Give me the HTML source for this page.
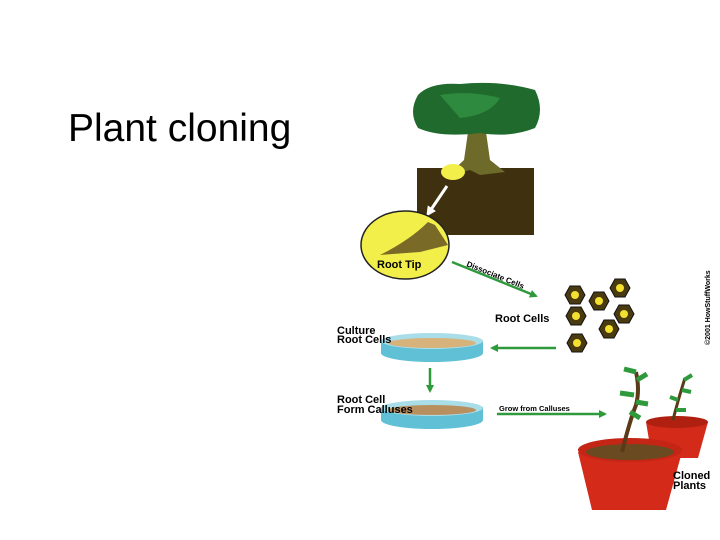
<!DOCTYPE html>
<html><head><style>
body{margin:0;width:720px;height:540px;background:#fff;overflow:hidden;position:relative;font-family:"Liberation Sans",sans-serif}
.t{position:absolute;left:68px;top:106px;font-size:39px;color:#000;line-height:46px}
</style></head><body>
<div class="t">Plant cloning</div>
<svg width="720" height="540" style="position:absolute;left:0;top:0" font-family="Liberation Sans, sans-serif" font-weight="bold">
<defs>
<marker id="g" markerWidth="8" markerHeight="8" refX="6" refY="4" orient="auto" markerUnits="userSpaceOnUse"><path d="M0,0 L8,4 L0,8z" fill="#2e9a3c"/></marker>
<marker id="w" markerWidth="10" markerHeight="10" refX="7" refY="5" orient="auto" markerUnits="userSpaceOnUse"><path d="M0,0 L10,5 L0,10z" fill="#fff"/></marker>
<g id="hx"><path d="M-5,-9 L5,-9 L10,0 L5,9 L-5,9 L-10,0z" fill="#4a3a10" stroke="#111"/><circle r="4" fill="#f3e030"/></g>
</defs>
<rect x="417" y="168" width="117" height="67" fill="#3f3010"/>
<path d="M468,132 L464,160 L448,175 L470,170 L480,175 L505,172 L490,160 L486,132z" fill="#6d6a2a"/>
<path d="M418,95 Q430,82 460,84 Q500,80 535,90 Q545,110 535,128 Q510,138 480,133 Q440,138 418,128 Q408,112 418,95z" fill="#1f6a2c"/>
<path d="M440,95 Q470,90 500,98 Q490,115 460,118z" fill="#2e8a3e"/>
<ellipse cx="453" cy="172" rx="12" ry="8" fill="#f3ef4a"/>
<line x1="447" y1="186" x2="428" y2="214" stroke="#fff" stroke-width="3" marker-end="url(#w)"/>
<ellipse cx="405" cy="245" rx="44" ry="34" fill="#f3ef4a" stroke="#222" stroke-width="1.5"/>
<path d="M380,255 Q410,240 428,222 L435,225 L448,245 L420,252z" fill="#7a6a28"/>
<text x="377" y="268" font-size="11">Root Tip</text>
<line x1="452" y1="262" x2="536" y2="296" stroke="#2e9a3c" stroke-width="2.5" marker-end="url(#g)"/>
<text x="466" y="266" font-size="8" transform="rotate(22 466 266)">Dissociate Cells</text>
<use href="#hx" x="575" y="295"/>
<use href="#hx" x="599" y="301"/>
<use href="#hx" x="620" y="288"/>
<use href="#hx" x="576" y="316"/>
<use href="#hx" x="624" y="314"/>
<use href="#hx" x="609" y="329"/>
<use href="#hx" x="577" y="343"/>
<text x="495" y="322" font-size="11">Root Cells</text>
<text x="710" y="345" font-size="7" transform="rotate(-90 710 345)">©2001 HowStuffWorks</text>
<path d="M381,341 L381,353 A51,9 0 0 0 483,353 L483,341z" fill="#5fc0d6"/>
<ellipse cx="432" cy="341" rx="51" ry="8" fill="#a9dde8"/>
<ellipse cx="432" cy="343" rx="44" ry="5" fill="#d7b27a"/>
<text x="337" y="334" font-size="11">Culture</text>
<text x="337" y="343" font-size="11">Root Cells</text>
<line x1="556" y1="348" x2="492" y2="348" stroke="#2e9a3c" stroke-width="2.5" marker-end="url(#g)"/>
<line x1="430" y1="368" x2="430" y2="391" stroke="#2e9a3c" stroke-width="2.5" marker-end="url(#g)"/>
<path d="M381,407 L381,420 A51,9 0 0 0 483,420 L483,407z" fill="#5fc0d6"/>
<ellipse cx="432" cy="408" rx="51" ry="8" fill="#a9dde8"/>
<ellipse cx="432" cy="410" rx="44" ry="5" fill="#b89060"/>
<text x="337" y="403" font-size="11">Root Cell</text>
<text x="337" y="413" font-size="11">Form Calluses</text>
<line x1="497" y1="414" x2="605" y2="414" stroke="#2e9a3c" stroke-width="2.5" marker-end="url(#g)"/>
<text x="499" y="411" font-size="7.5">Grow from Calluses</text>
<path d="M646,422 L652,458 L698,458 L708,422z" fill="#d42a1a"/>
<ellipse cx="677" cy="422" rx="31" ry="6" fill="#b02010"/>
<path d="M673,420 Q678,400 685,378" stroke="#5a3a18" stroke-width="3" fill="none"/>
<path d="M684,380 l8,-5 M682,390 l9,2 M678,400 l-8,-3 M676,410 l10,0" stroke="#2e9a3c" stroke-width="4"/>
<path d="M578,452 L592,510 L666,510 L682,452z" fill="#d42a1a"/>
<ellipse cx="630" cy="450" rx="52" ry="12" fill="#c52515"/>
<ellipse cx="630" cy="452" rx="44" ry="8" fill="#6a4a20"/>
<path d="M622,452 Q630,420 636,405 Q640,390 636,372" stroke="#5a3a18" stroke-width="4" fill="none"/>
<path d="M636,372 l-12,-3 M637,380 l10,-6 M634,395 l-14,-2 M636,402 l12,2 M630,412 l10,6" stroke="#2e9a3c" stroke-width="5"/>
<text x="673" y="479" font-size="11">Cloned</text>
<text x="673" y="489" font-size="11">Plants</text>
</svg>
</body></html>
